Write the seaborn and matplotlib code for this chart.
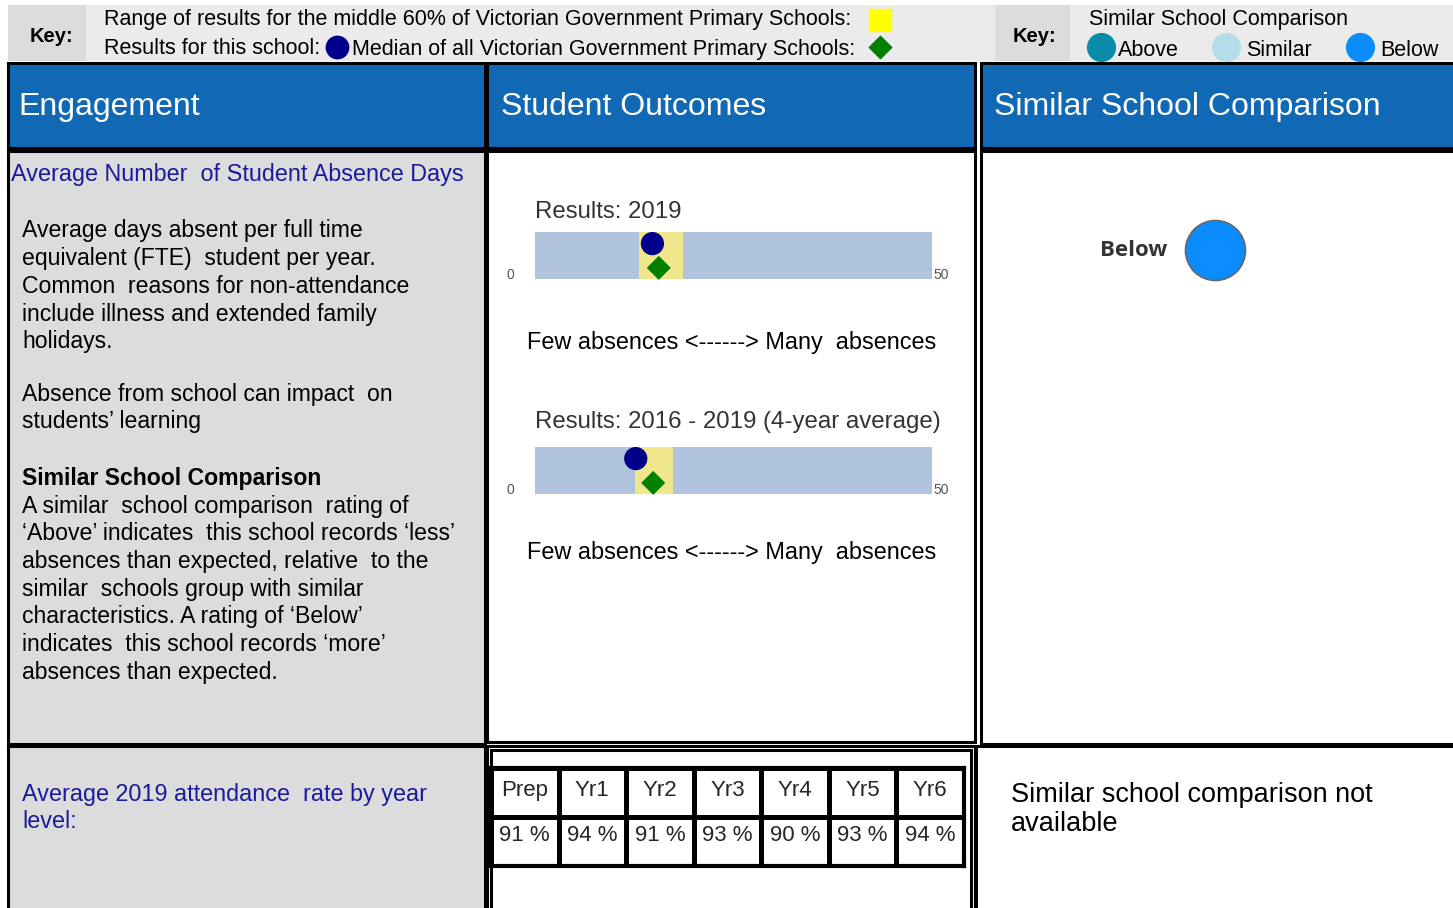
import numpy as np
import pandas as pd
import matplotlib
matplotlib.use("Agg")
import matplotlib.pyplot as plt
from matplotlib.patches import Rectangle
from matplotlib.colors import ListedColormap
import seaborn as sns

############# Data #############

periods = ['Results: 2019', 'Results: 2016 - 2019 (4-year average)']
school_result = [14.8, 12.7]      # average absence days, this school
state_median = [15.6, 14.9]       # median of all Vic government primary schools
range_low = [13.1, 12.6]          # middle 60% range
range_high = [18.7, 17.4]
axis_max = 50

year_levels = ['Prep', 'Yr1', 'Yr2', 'Yr3', 'Yr4', 'Yr5', 'Yr6']
attendance = [91, 94, 91, 93, 90, 93, 94]

similar_rating = 'Below'
key_ratings = ['Above', 'Similar', 'Below']

############# Style #############

sns.set_theme(style="white")
plt.rcParams['font.family'] = ['Liberation Sans', 'DejaVu Sans']

BLUE_HEAD = '#1169b5'
PANEL_GRAY = '#dcdcdc'
KEY_GRAY = '#ebebeb'
LINK_BLUE = '#1a1a9e'
rating_colors = {'Above': '#0a8ca8', 'Similar': '#b4dcea', 'Below': '#0a8cff'}

W, H = 1453, 908
fig = plt.figure(figsize=(W / 100, H / 100), dpi=100)
bg = fig.add_axes([0, 0, 1, 1])
bg.set_xlim(0, W)
bg.set_ylim(H, 0)
bg.axis('off')


# Draw a rectangle in pixel coordinates
def box(x0, y0, x1, y1, fc='white', ec='black', lw=2.2):
    bg.add_patch(Rectangle((x0, y0), x1 - x0, y1 - y0, facecolor=fc, edgecolor=ec, linewidth=lw))


# Write text in pixel coordinates
def txt(x, y, s, size=16, color='black', **kw):
    bg.text(x, y, s, fontsize=size, color=color, va='center', ha=kw.pop('ha', 'left'), **kw)


# Place a figure axes from pixel box
def pix_axes(x0, y0, w, h):
    return fig.add_axes([x0 / W, 1 - (y0 + h) / H, w / W, h / H])


############# Key row #############

box(8, 5, 1453, 61, fc=KEY_GRAY, ec='none', lw=0)
box(8, 5, 86, 61, fc=PANEL_GRAY, ec='none', lw=0)
box(995, 5, 1070, 61, fc=PANEL_GRAY, ec='none', lw=0)
txt(30, 37, 'Key:', size=14.5, weight='bold')
txt(1013, 37, 'Key:', size=14.5, weight='bold')
txt(104, 19, 'Range of results for the middle 60% of Victorian Government Primary Schools:', size=15.5)
bg.scatter([880], [20], marker='s', s=230, color='#ffff00', zorder=3)
txt(104, 49, 'Results for this school:', size=15.5)
bg.scatter([337], [47], marker='o', s=260, color='#00008b', zorder=3)
txt(352, 49, 'Median of all Victorian Government Primary Schools:', size=15.5)
bg.scatter([880], [47], marker='D', s=130, color='#008000', zorder=3)

txt(1089, 19, 'Similar School Comparison', size=15.5)
for xc, r in zip([1101, 1226, 1360], key_ratings):
    bg.scatter([xc], [47], marker='o', s=400, color=rating_colors[r], zorder=3)
    txt(xc + (17 if r == 'Above' else 20), 50, r, size=15.5)

############# Headers #############

box(8, 63, 485, 148, fc=BLUE_HEAD)
box(487, 63, 975, 148, fc=BLUE_HEAD)
box(981, 63, 1458, 148, fc=BLUE_HEAD)
txt(18, 107, 'Engagement', size=23, color='white')
txt(501, 107, 'Student Outcomes', size=23, color='white')
txt(994, 107, 'Similar School Comparison', size=23, color='white')

############# Content row #############

box(8, 151, 485, 744, fc=PANEL_GRAY)
box(487, 151, 975, 742)
box(981, 151, 1458, 744)

txt(11, 174, 'Average Number  of Student Absence Days', size=16.8, color=LINK_BLUE)
para1 = ['Average days absent per full time', 'equivalent (FTE)  student per year.',
         'Common  reasons for non-attendance', 'include illness and extended family', 'holidays.']
para2 = ['Absence from school can impact  on', 'students\u2019 learning']
para3 = ['A similar  school comparison  rating of',
         '\u2018Above\u2019 indicates  this school records \u2018less\u2019',
         'absences than expected, relative  to the', 'similar  schools group with similar',
         'characteristics. A rating of \u2018Below\u2019', 'indicates  this school records \u2018more\u2019',
         'absences than expected.']
for start, lines in [(231, para1), (394, para2), (506, para3)]:
    for i, line in enumerate(lines):
        txt(22, start + i * 27.7, line, size=16.6)
txt(22, 478, 'Similar School Comparison', size=16.6, weight='bold')

# Range bars drawn on their own axes, values on a 0-50 scale
bar_tops = [231.7, 446.7]
title_y = [212, 422]
caption_y = [343, 552]
for k in range(len(periods)):
    top = bar_tops[k]
    ax = pix_axes(535, top, 396.7, 47.6)
    ax.barh([0.5], [axis_max], height=1, left=0, color='#b0c4de', linewidth=0)
    ax.barh([0.5], [range_high[k] - range_low[k]], height=1, left=range_low[k],
            color='#f0e68c', linewidth=0)
    pts = pd.DataFrame({'value': [school_result[k]], 'pos': [0.75]})
    sns.scatterplot(data=pts, x='value', y='pos', ax=ax, marker='o', s=280,
                    color='#00008b', edgecolor='none', zorder=4, clip_on=False)
    med = pd.DataFrame({'value': [state_median[k]], 'pos': [0.24]})
    sns.scatterplot(data=med, x='value', y='pos', ax=ax, marker='D', s=150,
                    color='#008000', edgecolor='none', zorder=4, clip_on=False)
    ax.set_xlim(0, axis_max)
    ax.set_ylim(0, 1)
    ax.axis('off')
    ax.text(-3.6, 0.08, '0', fontsize=10, color='#555555', va='center', ha='left')
    ax.text(axis_max + 0.2, 0.08, str(axis_max), fontsize=10, color='#555555', va='center', ha='left')
    txt(535, title_y[k], periods[k], size=17.3, color='#333333')
    txt(527, caption_y[k], 'Few absences <------> Many  absences', size=16.9)

# Similar school rating
txt(1100, 250, similar_rating, size=16, color='#333333', weight='bold', family='Open Sans')
bg.scatter([1215], [250], marker='o', s=1866, color=rating_colors[similar_rating],
           edgecolor='#666666', linewidth=1.2, zorder=3)

############# Bottom row #############

box(8, 746, 485, 912, fc=PANEL_GRAY)
box(487, 746, 975, 912)
box(491, 750, 971, 912)
box(976, 746, 1458, 912)

txt(22, 794, 'Average 2019 attendance  rate by year', size=16.8, color=LINK_BLUE)
txt(22, 822, 'level:', size=16.8, color=LINK_BLUE)
txt(1011, 795, 'Similar school comparison not', size=19.5)
txt(1011, 824, 'available', size=19.5)

# Attendance table as a two-row heatmap grid
tab = pix_axes(491, 768, 473, 98)
sns.heatmap(np.zeros((2, len(year_levels))), ax=tab, cmap=ListedColormap(['white']),
            cbar=False, linewidths=2.5, linecolor='black', xticklabels=False, yticklabels=False)
for s in tab.spines.values():
    s.set_visible(True)
    s.set_linewidth(3)
    s.set_color('black')
for j, (lvl, val) in enumerate(zip(year_levels, attendance)):
    tab.text(j + 0.5, 0.45, lvl, fontsize=16, ha='center', va='center')
    tab.text(j + 0.5, 1.38, f'{val} %', fontsize=16, ha='center', va='center')

plt.savefig('out.png', dpi=100)
